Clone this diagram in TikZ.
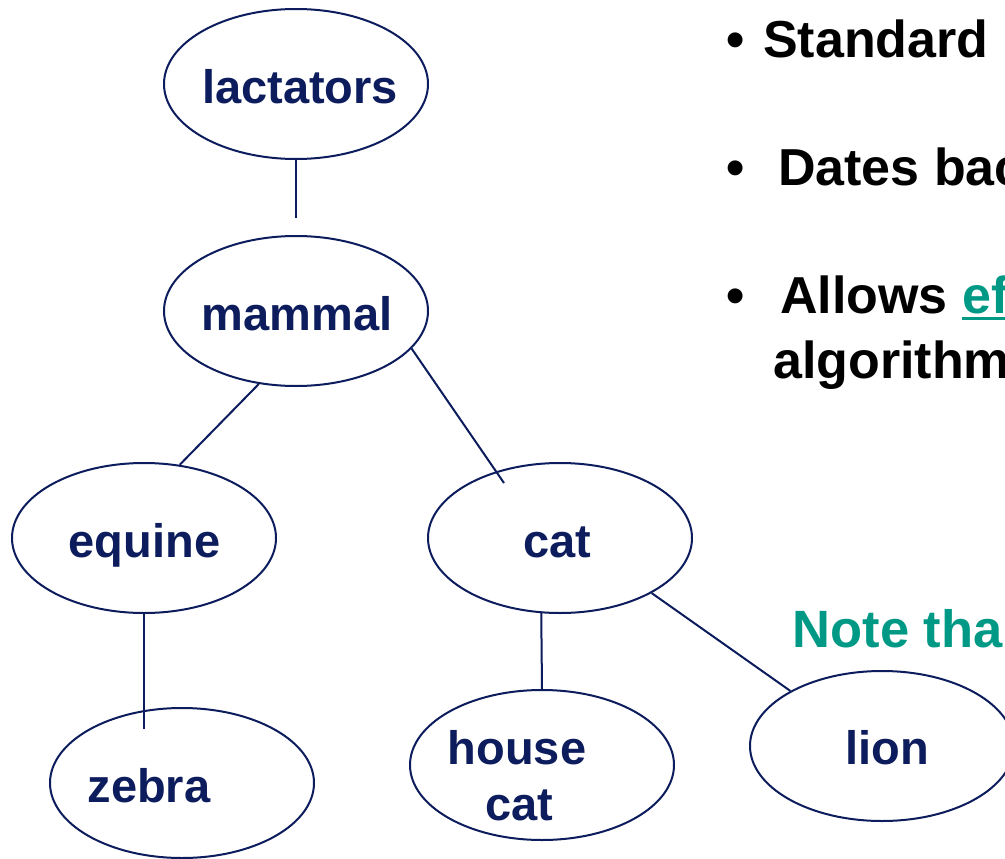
\documentclass[tikz,border=0pt]{standalone}
\usepackage{fontspec}
\setmainfont{Liberation Sans}
\usetikzlibrary{shapes.geometric}
\definecolor{navy}{HTML}{0C1C5C}
\definecolor{tealg}{HTML}{009985}
\newcommand\myulbox[1]{\setbox0\hbox{#1}\rlap{\rule[-7pt]{\wd0}{3pt}}\box0}
\begin{document}
\begin{tikzpicture}[x=1pt,y=-1pt,
  oval/.style={draw=navy, line width=2pt, ellipse, minimum width=264pt, minimum height=150pt, inner sep=0pt},
  lbl/.style={text=navy, font=\fontsize{47}{56}\selectfont\bfseries, anchor=base, inner sep=0pt},
  link/.style={draw=navy, line width=2pt},
  body/.style={text=black, font=\fontsize{52}{62}\selectfont\bfseries, anchor=base west, inner sep=0pt},
  note/.style={text=tealg, font=\fontsize{52.5}{62}\selectfont\bfseries, anchor=base west, inner sep=0pt},
]
\useasboundingbox (0,0) rectangle (1005,859);
\clip (0,0) rectangle (1005,859);
\fill[white] (0,0) rectangle (1005,859);

% ellipses
\node[oval] (lactators) at (296,84) {};
\node[oval] (mammal) at (296,311) {};
\node[oval] (equine) at (144,538) {};
\node[oval] (cat) at (560,538) {};
\node[oval] (zebra) at (182,783) {};
\node[oval] (housecat) at (542,765) {};
\node[oval] (lion) at (882,746) {};

% free ends
\coordinate (lm) at (296,218);
\coordinate (mc) at (504,483);
\coordinate (ez) at (144,729);

% connectors
\draw[link] (lactators.south) -- (lm);
\draw[link] (mammal.243) -- (equine.64);
\draw[link] (mammal.342) -- (mc);
\draw[link] (equine.south) -- (ez);
\draw[link] (cat.256) -- (housecat.north);
\draw[link] (cat.329) -- (lion.149);

% labels
\node[lbl] (tlact) at (300,103) {lactators};
\node[lbl] (tmam) at (297,330) {mammal};
\node[lbl] (tequ) at (144.5,557) {equine};
\node[lbl] (tcat) at (557,557) {cat};
\node[lbl] (tzeb) at (149,802) {zebra};
\node[lbl] (thouse) at (517,764) {house};
\node[lbl] (thcat) at (519,820) {cat};
\node[lbl] (tlion) at (887,764) {lion};

% right text
\node[body] (b1) at (726,58) {•\hspace{18.8pt}Standard};
\node[body] (b2) at (726,185) {•\hspace{33.8pt}Dates bac};
\node[body] (b3) at (726,313) {•\hspace{35.8pt}Allows \textcolor{tealg}{\myulbox{ef}}};
\node[body] (b4) at (773,378) {algorithm};
\node[note] (nt) at (792.5,647) {Note tha};
\end{tikzpicture}
\end{document}
